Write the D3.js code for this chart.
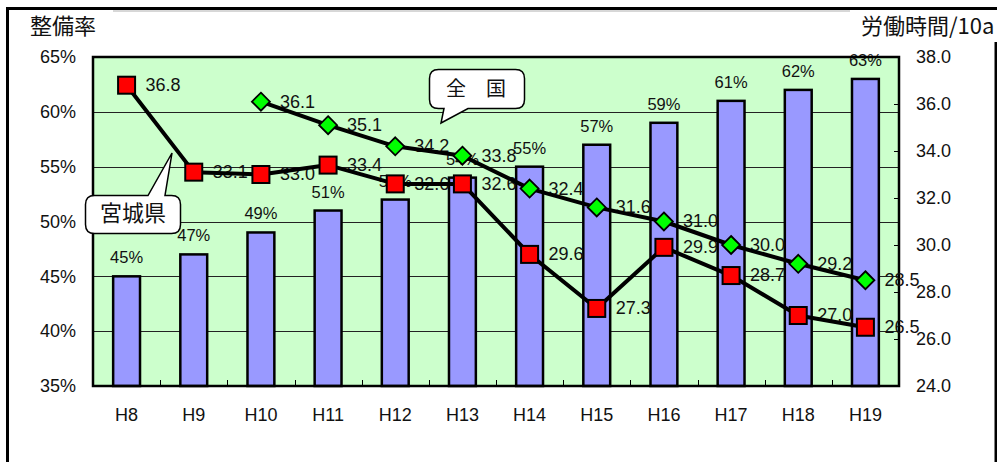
<!DOCTYPE html>
<html>
<head>
<meta charset="utf-8">
<script src="https://cdn.jsdelivr.net/npm/d3@7"></script>
<style>
  body { margin: 0; background: #fff; }
  svg { display: block; }
</style>
</head>
<body>
<div id="chart"></div>
<script>
// data
var categories = ["H8", "H9", "H10", "H11", "H12", "H13", "H14", "H15", "H16", "H17", "H18", "H19"];
var seibiRate = [0.45, 0.47, 0.49, 0.51, 0.52, 0.54, 0.55, 0.57, 0.59, 0.61, 0.62, 0.63];
var miyagiHours = [36.8, 33.1, 33.0, 33.4, 32.6, 32.6, 29.6, 27.3, 29.9, 28.7, 27.0, 26.5];
var zenkokuCats = ["H10", "H11", "H12", "H13", "H14", "H15", "H16", "H17", "H18", "H19"];
var zenkokuHours = [36.1, 35.1, 34.2, 33.8, 32.4, 31.6, 31.0, 30.0, 29.2, 28.5];
var leftTicks = [0.35, 0.40, 0.45, 0.50, 0.55, 0.60, 0.65];
var rightTicks = [24, 26, 28, 30, 32, 34, 36, 38];

var W = 997, H = 462;
// plot area (window.top is read-only, so use own names)
var pLeft = 93, pRight = 899, pTop = 57, pBottom = 386;
var numFont = "'Liberation Sans', Arial, sans-serif";
var jpFont = "'Noto Sans CJK JP', sans-serif";

var svg = d3.select("#chart").append("svg")
    .attr("width", W)
    .attr("height", H);

var x = d3.scaleBand().domain(categories).range([pLeft, pRight]);
var yL = d3.scaleLinear().domain([0.35, 0.65]).range([pBottom, pTop]);
var yR = d3.scaleLinear().domain([24, 38]).range([pBottom, pTop]);
var barW = x.bandwidth() * 0.4;
function cx(c) { return x(c) + x.bandwidth() / 2; }

// outer frame
svg.append("rect")
    .attr("x", 7.5).attr("y", 8.5)
    .attr("width", 988.5).attr("height", 520)
    .attr("fill", "#fff")
    .attr("stroke", "#000")
    .attr("stroke-width", 3);
svg.append("line")
    .attr("x1", 113).attr("x2", 850)
    .attr("y1", 11).attr("y2", 11)
    .attr("stroke", "#b0b0b0");
svg.append("rect")
    .attr("x", 852).attr("y", 10)
    .attr("width", 145).attr("height", 32)
    .attr("fill", "#fff");

// titles
svg.append("text")
    .attr("x", 30).attr("y", 33.5)
    .attr("font-family", jpFont)
    .attr("font-size", "22px")
    .attr("fill", "#111")
    .text("整備率");
svg.append("text")
    .attr("x", 861).attr("y", 33.5)
    .attr("font-family", jpFont)
    .attr("font-size", "22px")
    .attr("fill", "#111")
    .text("労働時間/10a");

// plot background
svg.append("rect")
    .attr("x", pLeft).attr("y", pTop)
    .attr("width", pRight - pLeft).attr("height", pBottom - pTop)
    .attr("fill", "#CCFFCC");

// gridlines
svg.append("g")
    .selectAll("line")
    .data(leftTicks.slice(1, -1))
    .enter().append("line")
    .attr("x1", pLeft).attr("x2", pRight)
    .attr("y1", function(d) { return Math.round(yL(d)) + 0.5; })
    .attr("y2", function(d) { return Math.round(yL(d)) + 0.5; })
    .attr("stroke", "#222")
    .attr("stroke-width", 1);

// bars
svg.append("g")
    .selectAll("rect")
    .data(seibiRate)
    .enter().append("rect")
    .attr("x", function(d, i) { return cx(categories[i]) - barW / 2; })
    .attr("y", function(d) { return yL(d); })
    .attr("width", barW)
    .attr("height", function(d) { return pBottom - yL(d); })
    .attr("fill", "#9999FF")
    .attr("stroke", "#000")
    .attr("stroke-width", 2.5);

svg.append("g")
    .selectAll("text")
    .data(seibiRate)
    .enter().append("text")
    .attr("x", function(d, i) { return cx(categories[i]); })
    .attr("y", function(d) { return yL(d) - 13; })
    .attr("text-anchor", "middle")
    .attr("font-family", numFont)
    .attr("font-size", "16.5px")
    .attr("fill", "#111")
    .text(function(d) { return Math.round(d * 100) + "%"; });

// plot border
svg.append("rect")
    .attr("x", pLeft).attr("y", pTop)
    .attr("width", pRight - pLeft).attr("height", pBottom - pTop)
    .attr("fill", "none")
    .attr("stroke", "#000")
    .attr("stroke-width", 2.5);

// x boundary ticks (inside)
svg.append("g")
    .selectAll("line")
    .data(categories.slice(1))
    .enter().append("line")
    .attr("x1", function(d) { return Math.round(x(d)) + 0.5; })
    .attr("x2", function(d) { return Math.round(x(d)) + 0.5; })
    .attr("y1", pBottom).attr("y2", pBottom - 6)
    .attr("stroke", "#000")
    .attr("stroke-width", 1);

// axes
var gx = svg.append("g")
    .attr("transform", "translate(0," + pBottom + ")")
    .call(d3.axisBottom(x).tickSize(0).tickPadding(22));
var gl = svg.append("g")
    .attr("transform", "translate(" + pLeft + ",0)")
    .call(d3.axisLeft(yL).tickValues(leftTicks).tickFormat(d3.format(".0%")).tickSize(0).tickPadding(17));
var gr = svg.append("g")
    .attr("transform", "translate(" + pRight + ",0)")
    .call(d3.axisRight(yR).tickValues(rightTicks).tickFormat(d3.format(".1f")).tickSize(-5).tickPadding(17));
[gx, gl, gr].forEach(function(g) {
    g.select(".domain").remove();
    g.selectAll("text")
        .attr("font-family", numFont)
        .attr("font-size", "18px")
        .attr("fill", "#111");
    g.selectAll("line").attr("stroke", "#000");
});

// line value labels (drawn under the lines)
function lineLabels(cats, vals) {
    svg.append("g")
        .selectAll("text")
        .data(vals)
        .enter().append("text")
        .attr("x", function(d, i) { return cx(cats[i]) + 19; })
        .attr("y", function(d) { return yR(d); })
        .attr("dy", "0.33em")
        .attr("font-family", numFont)
        .attr("font-size", "18px")
        .attr("fill", "#111")
        .text(function(d) { return d.toFixed(1); });
}
lineLabels(categories, miyagiHours);
lineLabels(zenkokuCats, zenkokuHours);

var line = d3.line()
    .x(function(d) { return cx(d.c); })
    .y(function(d) { return yR(d.v); });

var miyagi = miyagiHours.map(function(v, i) { return {c: categories[i], v: v}; });
var zenkoku = zenkokuHours.map(function(v, i) { return {c: zenkokuCats[i], v: v}; });

[miyagi, zenkoku].forEach(function(s) {
    svg.append("path")
        .datum(s)
        .attr("d", line)
        .attr("fill", "none")
        .attr("stroke", "#000")
        .attr("stroke-width", 4)
        .attr("stroke-linejoin", "round");
});

// markers
svg.append("g")
    .selectAll("rect")
    .data(miyagi)
    .enter().append("rect")
    .attr("x", function(d) { return cx(d.c) - 8.5; })
    .attr("y", function(d) { return yR(d.v) - 8.5; })
    .attr("width", 17).attr("height", 17)
    .attr("fill", "#FF0000")
    .attr("stroke", "#000")
    .attr("stroke-width", 2);

svg.append("g")
    .selectAll("path")
    .data(zenkoku)
    .enter().append("path")
    .attr("transform", function(d) { return "translate(" + cx(d.c) + "," + yR(d.v) + ")"; })
    .attr("d", "M0,-9L9,0L0,9L-9,0Z")
    .attr("fill", "#00FF00")
    .attr("stroke", "#000")
    .attr("stroke-width", 1.8);

// callouts
function callout(bx, by, bw, bh, r, t1, t2, tipX, tipY, tailTop) {
    var p = "M" + (bx + r) + "," + by;
    if (tailTop) p += "L" + t1 + "," + by + "L" + tipX + "," + tipY + "L" + t2 + "," + by;
    p += "L" + (bx + bw - r) + "," + by +
        "Q" + (bx + bw) + "," + by + " " + (bx + bw) + "," + (by + r) +
        "L" + (bx + bw) + "," + (by + bh - r) +
        "Q" + (bx + bw) + "," + (by + bh) + " " + (bx + bw - r) + "," + (by + bh);
    if (!tailTop) p += "L" + t2 + "," + (by + bh) + "L" + tipX + "," + tipY + "L" + t1 + "," + (by + bh);
    p += "L" + (bx + r) + "," + (by + bh) +
        "Q" + bx + "," + (by + bh) + " " + bx + "," + (by + bh - r) +
        "L" + bx + "," + (by + r) +
        "Q" + bx + "," + by + " " + (bx + r) + "," + by + "Z";
    svg.append("path")
        .attr("d", p)
        .attr("fill", "#fff")
        .attr("stroke", "#000")
        .attr("stroke-width", 1.5);
}

callout(85.5, 195.5, 95, 38, 9, 148, 165, 172, 153, true);
svg.append("text")
    .attr("x", 133).attr("y", 221)
    .attr("text-anchor", "middle")
    .attr("font-family", jpFont)
    .attr("font-size", "22px")
    .attr("fill", "#111")
    .text("宮城県");

callout(429.5, 69.5, 95, 39, 9, 444, 468, 441, 123, false);
svg.append("text")
    .attr("x", 476).attr("y", 95.5)
    .attr("text-anchor", "middle")
    .attr("font-family", jpFont)
    .attr("font-size", "20px")
    .attr("fill", "#111")
    .text("全　国");
</script>
</body>
</html>
